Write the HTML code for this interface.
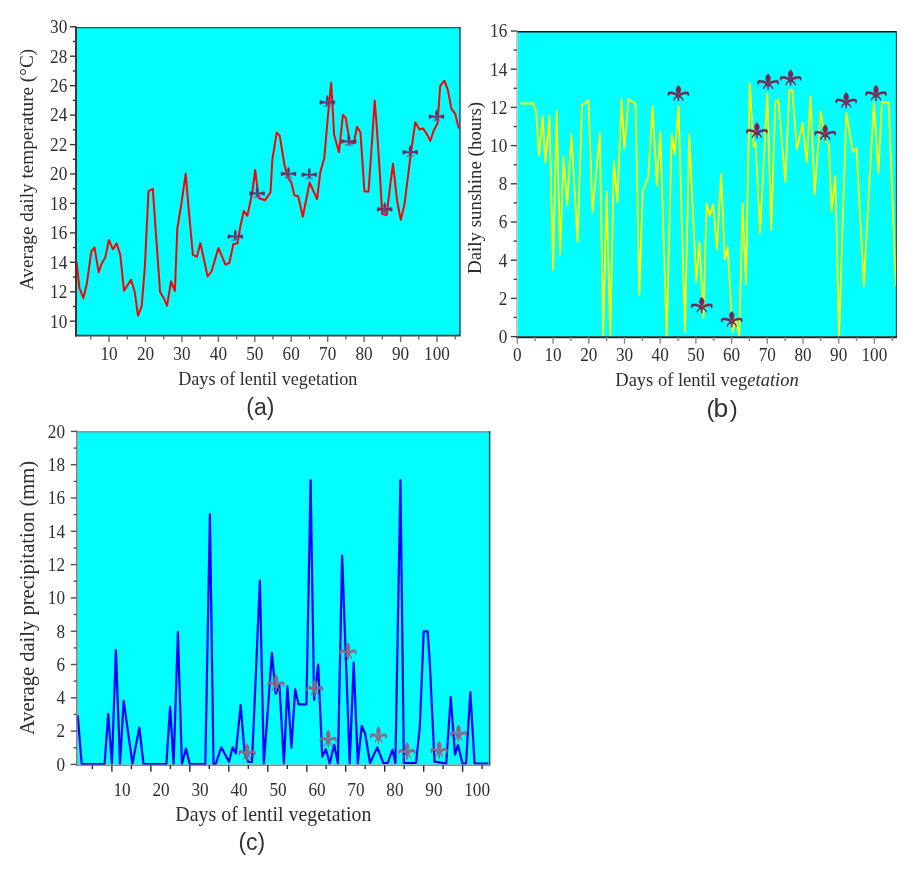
<!DOCTYPE html>
<html><head><meta charset="utf-8"><style>
html,body{margin:0;padding:0;background:#fff;}
svg{display:block;filter:blur(0.3px);}
text{font-family:'Liberation Serif',serif;fill:#2e2e2e;}
.lab{font-family:'Liberation Sans',sans-serif;fill:#333;}
</style></head><body>
<svg width="918" height="869" viewBox="0 0 918 869">
<defs>
<g id="fdl">
<path d="M0,0 C1.8,1.5 2.7,3.4 2.5,5 C2.3,6.8 1.2,8.3 0,9.6 C-1.2,8.3 -2.3,6.8 -2.5,5 C-2.7,3.4 -1.8,1.5 0,0 Z"/>
<path d="M-0.4,9.4 C-2,7.4 -5.5,6.4 -8.8,6.6 C-10.6,6.8 -11.2,8.6 -10.4,10.6 L-9.4,10.9 C-9.6,9.8 -9.2,8.9 -8,8.8 C-5.6,8.7 -3,9.6 -0.6,11.2 Z"/>
<path d="M0.4,9.4 C2,7.4 5.5,6.4 8.8,6.6 C10.6,6.8 11.2,8.6 10.4,10.6 L9.4,10.9 C9.6,9.8 9.2,8.9 8,8.8 C5.6,8.7 3,9.6 0.6,11.2 Z"/>
<path d="M-2.6,10.2 H2.6 V11.4 H-2.6 Z"/>
<path d="M-0.85,10.5 L0.85,10.5 L0.55,15.9 L-0.55,15.9 Z"/>
<path d="M-1.2,11.6 C-2.8,12 -4.2,12.8 -4.6,14.8" fill="none" stroke-width="1.3" stroke-linecap="round"/>
<path d="M1.2,11.6 C2.8,12 4.2,12.8 4.6,14.8" fill="none" stroke-width="1.3" stroke-linecap="round"/>
</g>
<g id="fdlA">
<path d="M0,0 C0.9,1.1 1.3,2.6 1.3,3.9 C1.3,5 0.7,5.9 0,6.7 C-0.7,5.9 -1.3,5 -1.3,3.9 C-1.3,2.6 -0.9,1.1 0,0 Z"/>
<path d="M-1,6.6 L-5,5.6 C-6.3,5.0 -7.4,4.9 -7.5,5.8 L-7.4,8.6 C-7.3,9.3 -6.6,9.4 -6.1,8.8 C-5.2,8 -3,7.7 -1,7.9 Z"/>
<path d="M1,6.6 L5,5.6 C6.3,5.0 7.4,4.9 7.5,5.8 L7.4,8.6 C7.3,9.3 6.6,9.4 6.1,8.8 C5.2,8 3,7.7 1,7.9 Z"/>
<path d="M-1.3,6 H1.3 V10.2 H-1.3 Z" fill="#5c4a84"/>
<path d="M-3.6,10 H3.6 V11.6 H-3.6 Z" fill="#6272a2" opacity="0.6"/>
</g>
</defs>
</defs>

<rect x="76" y="27" width="384.6" height="308.5" fill="#00ffff"/>
<polyline points="76.6,262.2 79.4,288.0 83.4,298.1 86.7,284.3 91.4,251.1 94.5,247.4 98.7,272.3 101.5,264.0 105.2,257.6 108.9,240.0 112.9,249.3 116.6,243.4 120.3,254.8 124.0,290.7 131.0,279.7 134.7,291.7 138.0,315.6 141.7,306.4 144.8,267.7 148.5,191.2 152.8,188.9 156.6,243.0 160.1,292.0 163.6,297.9 167.1,305.7 171.0,281.3 174.9,291.0 177.3,228.5 181.2,205.0 185.7,173.7 189.0,212.8 192.9,254.9 196.9,256.8 200.4,243.1 207.6,276.4 211.5,271.5 218.4,248.0 225.5,264.7 229.4,262.8 233.3,244.2 237.6,243.2 240.5,225.6 243.9,211.0 247.4,215.8 252.3,192.4 255.2,169.9 258.1,194.3 259.1,198.2 265.0,200.2 270.5,192.4 272.4,159.1 276.7,132.7 279.7,135.6 284.5,165.0 287.5,176.7 291.4,182.6 294.3,195.3 298.2,196.3 302.8,216.7 309.6,182.5 317.1,199.1 320.4,171.7 324.3,158.0 328.2,113.0 331.2,82.7 334.1,134.5 339.0,152.2 342.9,115.0 345.8,117.9 349.7,142.4 353.7,143.4 357.0,126.7 360.5,132.6 364.4,191.3 368.5,191.7 371.2,153.3 374.7,100.4 376.4,122.2 379.5,167.8 382.2,214.0 386.7,215.0 389.8,188.6 393.0,163.7 397.1,201.0 400.8,219.7 404.4,205.1 410.6,155.4 415.3,122.2 419.5,129.5 423.0,128.4 427.2,134.6 430.3,140.9 433.4,131.5 437.5,123.2 440.2,85.9 444.4,80.7 447.9,90.1 451.4,108.7 455.2,113.9 458.9,128.4" fill="none" stroke="#ff0000" stroke-width="2.0" stroke-linejoin="round"/>
<use href="#fdlA" transform="translate(235.3,229.5) scale(1.013,1.000)" fill="#6c2c64" stroke="#6c2c64" stroke-width="0.3"/>
<use href="#fdlA" transform="translate(257.2,186.4) scale(1.013,1.000)" fill="#6c2c64" stroke="#6c2c64" stroke-width="0.3"/>
<use href="#fdlA" transform="translate(288.5,166.8) scale(1.013,1.000)" fill="#6c2c64" stroke="#6c2c64" stroke-width="0.3"/>
<use href="#fdlA" transform="translate(309.3,167.7) scale(1.013,1.000)" fill="#6c2c64" stroke="#6c2c64" stroke-width="0.3"/>
<use href="#fdlA" transform="translate(327.3,95.3) scale(1.013,1.000)" fill="#6c2c64" stroke="#6c2c64" stroke-width="0.3"/>
<use href="#fdlA" transform="translate(348.8,134.4) scale(1.013,1.000)" fill="#6c2c64" stroke="#6c2c64" stroke-width="0.3"/>
<use href="#fdlA" transform="translate(384.7,202.2) scale(1.013,1.000)" fill="#6c2c64" stroke="#6c2c64" stroke-width="0.3"/>
<use href="#fdlA" transform="translate(410.2,145.2) scale(1.013,1.000)" fill="#6c2c64" stroke="#6c2c64" stroke-width="0.3"/>
<use href="#fdlA" transform="translate(436.5,109.6) scale(1.013,1.000)" fill="#6c2c64" stroke="#6c2c64" stroke-width="0.3"/>
<line x1="75.5" y1="27.65" x2="460.6" y2="27.65" stroke="#2a5555" stroke-width="1.3"/>
<line x1="459.90000000000003" y1="27" x2="459.90000000000003" y2="335.6" stroke="#3a4a4a" stroke-width="1.4"/>
<line x1="76" y1="26.5" x2="76" y2="336.5" stroke="#3a3434" stroke-width="2.0"/>
<line x1="75.0" y1="335.6" x2="460.6" y2="335.6" stroke="#3a3a3a" stroke-width="1.8"/>
<line x1="70.0" y1="321.2" x2="76" y2="321.2" stroke="#3a3434" stroke-width="1.4"/>
<text transform="translate(67.3,327.5) scale(0.94,1)" font-size="18.3" text-anchor="end">10</text>
<line x1="72.8" y1="306.5" x2="76" y2="306.5" stroke="#3a3434" stroke-width="1.4"/>
<line x1="70.0" y1="291.8" x2="76" y2="291.8" stroke="#3a3434" stroke-width="1.4"/>
<text transform="translate(67.3,298.1) scale(0.94,1)" font-size="18.3" text-anchor="end">12</text>
<line x1="72.8" y1="277.0" x2="76" y2="277.0" stroke="#3a3434" stroke-width="1.4"/>
<line x1="70.0" y1="262.3" x2="76" y2="262.3" stroke="#3a3434" stroke-width="1.4"/>
<text transform="translate(67.3,268.6) scale(0.94,1)" font-size="18.3" text-anchor="end">14</text>
<line x1="72.8" y1="247.6" x2="76" y2="247.6" stroke="#3a3434" stroke-width="1.4"/>
<line x1="70.0" y1="232.9" x2="76" y2="232.9" stroke="#3a3434" stroke-width="1.4"/>
<text transform="translate(67.3,239.2) scale(0.94,1)" font-size="18.3" text-anchor="end">16</text>
<line x1="72.8" y1="218.2" x2="76" y2="218.2" stroke="#3a3434" stroke-width="1.4"/>
<line x1="70.0" y1="203.4" x2="76" y2="203.4" stroke="#3a3434" stroke-width="1.4"/>
<text transform="translate(67.3,209.8) scale(0.94,1)" font-size="18.3" text-anchor="end">18</text>
<line x1="72.8" y1="188.7" x2="76" y2="188.7" stroke="#3a3434" stroke-width="1.4"/>
<line x1="70.0" y1="174.0" x2="76" y2="174.0" stroke="#3a3434" stroke-width="1.4"/>
<text transform="translate(67.3,180.3) scale(0.94,1)" font-size="18.3" text-anchor="end">20</text>
<line x1="72.8" y1="159.3" x2="76" y2="159.3" stroke="#3a3434" stroke-width="1.4"/>
<line x1="70.0" y1="144.6" x2="76" y2="144.6" stroke="#3a3434" stroke-width="1.4"/>
<text transform="translate(67.3,150.9) scale(0.94,1)" font-size="18.3" text-anchor="end">22</text>
<line x1="72.8" y1="129.8" x2="76" y2="129.8" stroke="#3a3434" stroke-width="1.4"/>
<line x1="70.0" y1="115.1" x2="76" y2="115.1" stroke="#3a3434" stroke-width="1.4"/>
<text transform="translate(67.3,121.4) scale(0.94,1)" font-size="18.3" text-anchor="end">24</text>
<line x1="72.8" y1="100.4" x2="76" y2="100.4" stroke="#3a3434" stroke-width="1.4"/>
<line x1="70.0" y1="85.7" x2="76" y2="85.7" stroke="#3a3434" stroke-width="1.4"/>
<text transform="translate(67.3,92.0) scale(0.94,1)" font-size="18.3" text-anchor="end">26</text>
<line x1="72.8" y1="71.0" x2="76" y2="71.0" stroke="#3a3434" stroke-width="1.4"/>
<line x1="70.0" y1="56.2" x2="76" y2="56.2" stroke="#3a3434" stroke-width="1.4"/>
<text transform="translate(67.3,62.6) scale(0.94,1)" font-size="18.3" text-anchor="end">28</text>
<line x1="72.8" y1="41.5" x2="76" y2="41.5" stroke="#3a3434" stroke-width="1.4"/>
<line x1="70.0" y1="26.8" x2="76" y2="26.8" stroke="#3a3434" stroke-width="1.4"/>
<text transform="translate(67.3,33.1) scale(0.94,1)" font-size="18.3" text-anchor="end">30</text>
<line x1="90.8" y1="335.6" x2="90.8" y2="339.4" stroke="#6a6a6a" stroke-width="1.4"/>
<line x1="109.0" y1="335.6" x2="109.0" y2="342.1" stroke="#6a6a6a" stroke-width="1.4"/>
<text transform="translate(109.0,360.0) scale(0.94,1)" font-size="18.3" text-anchor="middle">10</text>
<line x1="127.3" y1="335.6" x2="127.3" y2="339.4" stroke="#6a6a6a" stroke-width="1.4"/>
<line x1="145.5" y1="335.6" x2="145.5" y2="342.1" stroke="#6a6a6a" stroke-width="1.4"/>
<text transform="translate(145.5,360.0) scale(0.94,1)" font-size="18.3" text-anchor="middle">20</text>
<line x1="163.7" y1="335.6" x2="163.7" y2="339.4" stroke="#6a6a6a" stroke-width="1.4"/>
<line x1="181.9" y1="335.6" x2="181.9" y2="342.1" stroke="#6a6a6a" stroke-width="1.4"/>
<text transform="translate(181.9,360.0) scale(0.94,1)" font-size="18.3" text-anchor="middle">30</text>
<line x1="200.1" y1="335.6" x2="200.1" y2="339.4" stroke="#6a6a6a" stroke-width="1.4"/>
<line x1="218.4" y1="335.6" x2="218.4" y2="342.1" stroke="#6a6a6a" stroke-width="1.4"/>
<text transform="translate(218.4,360.0) scale(0.94,1)" font-size="18.3" text-anchor="middle">40</text>
<line x1="236.6" y1="335.6" x2="236.6" y2="339.4" stroke="#6a6a6a" stroke-width="1.4"/>
<line x1="254.8" y1="335.6" x2="254.8" y2="342.1" stroke="#6a6a6a" stroke-width="1.4"/>
<text transform="translate(254.8,360.0) scale(0.94,1)" font-size="18.3" text-anchor="middle">50</text>
<line x1="273.0" y1="335.6" x2="273.0" y2="339.4" stroke="#6a6a6a" stroke-width="1.4"/>
<line x1="291.2" y1="335.6" x2="291.2" y2="342.1" stroke="#6a6a6a" stroke-width="1.4"/>
<text transform="translate(291.2,360.0) scale(0.94,1)" font-size="18.3" text-anchor="middle">60</text>
<line x1="309.5" y1="335.6" x2="309.5" y2="339.4" stroke="#6a6a6a" stroke-width="1.4"/>
<line x1="327.7" y1="335.6" x2="327.7" y2="342.1" stroke="#6a6a6a" stroke-width="1.4"/>
<text transform="translate(327.7,360.0) scale(0.94,1)" font-size="18.3" text-anchor="middle">70</text>
<line x1="345.9" y1="335.6" x2="345.9" y2="339.4" stroke="#6a6a6a" stroke-width="1.4"/>
<line x1="364.1" y1="335.6" x2="364.1" y2="342.1" stroke="#6a6a6a" stroke-width="1.4"/>
<text transform="translate(364.1,360.0) scale(0.94,1)" font-size="18.3" text-anchor="middle">80</text>
<line x1="382.3" y1="335.6" x2="382.3" y2="339.4" stroke="#6a6a6a" stroke-width="1.4"/>
<line x1="400.6" y1="335.6" x2="400.6" y2="342.1" stroke="#6a6a6a" stroke-width="1.4"/>
<text transform="translate(400.6,360.0) scale(0.94,1)" font-size="18.3" text-anchor="middle">90</text>
<line x1="418.8" y1="335.6" x2="418.8" y2="339.4" stroke="#6a6a6a" stroke-width="1.4"/>
<line x1="437.0" y1="335.6" x2="437.0" y2="342.1" stroke="#6a6a6a" stroke-width="1.4"/>
<text transform="translate(437.0,360.0) scale(0.94,1)" font-size="18.3" text-anchor="middle">100</text>
<line x1="455.2" y1="335.6" x2="455.2" y2="339.4" stroke="#6a6a6a" stroke-width="1.4"/>
<rect x="517.4" y="31" width="379.6" height="305.6" fill="#00ffff"/>
<polyline points="520.6,103.5 533.3,103.5 536.1,111.9 539.0,155.6 542.6,116.1 545.4,162.7 549.4,116.1 553.1,269.8 556.7,110.5 560.1,254.3 563.5,157.0 567.2,205.0 571.4,134.5 577.6,241.6 582.0,104.9 588.5,100.6 592.5,212.0 599.8,133.1 603.2,336.0 606.6,190.9 610.2,336.0 613.9,161.3 617.3,202.1 621.5,99.2 624.3,148.6 628.6,99.2 635.6,103.5 639.3,295.2 642.7,190.9 648.3,176.8 652.6,106.3 656.8,185.2 660.2,131.7 666.7,337.0 671.7,134.5 674.5,154.2 678.5,106.3 685.0,331.8 689.2,134.5 696.2,282.0 699.3,241.8 703.5,317.4 706.6,203.5 709.7,215.9 713.2,204.5 716.9,249.1 721.1,174.0 724.8,259.4 727.7,247.0 732.5,331.9 735.6,318.0 739.3,336.0 742.6,203.3 745.9,284.3 749.7,82.7 753.6,146.3 755.5,142.4 760.0,233.0 767.3,93.5 771.2,229.7 775.3,102.5 778.3,99.5 785.3,182.0 789.3,89.7 792.3,89.7 796.8,149.3 802.6,123.0 806.7,162.3 810.4,96.0 814.6,194.0 820.6,111.5 825.0,140.0 828.8,144.5 831.6,211.7 835.3,175.8 839.0,336.0 846.3,113.0 852.8,152.0 856.5,148.0 863.8,286.0 873.8,102.3 878.4,172.8 881.9,102.2 888.6,102.6 896.0,286.5" fill="none" stroke="#ffff00" stroke-width="1.8" stroke-linejoin="round"/>
<use href="#fdl" transform="translate(678.4,85.2) scale(1.000,1.000)" fill="#7a2456" stroke="#7a2456" stroke-width="0.3"/>
<use href="#fdl" transform="translate(701.8,297.1) scale(1.000,1.000)" fill="#7a2456" stroke="#7a2456" stroke-width="0.3"/>
<use href="#fdl" transform="translate(731.8,311.3) scale(1.000,1.000)" fill="#7a2456" stroke="#7a2456" stroke-width="0.3"/>
<use href="#fdl" transform="translate(756.9,122.6) scale(1.000,1.000)" fill="#7a2456" stroke="#7a2456" stroke-width="0.3"/>
<use href="#fdl" transform="translate(768.1,73.7) scale(1.000,1.000)" fill="#7a2456" stroke="#7a2456" stroke-width="0.3"/>
<use href="#fdl" transform="translate(790.6,69.7) scale(1.000,1.000)" fill="#7a2456" stroke="#7a2456" stroke-width="0.3"/>
<use href="#fdl" transform="translate(825.2,124.5) scale(1.000,1.000)" fill="#7a2456" stroke="#7a2456" stroke-width="0.3"/>
<use href="#fdl" transform="translate(846.2,92.3) scale(1.000,1.000)" fill="#7a2456" stroke="#7a2456" stroke-width="0.3"/>
<use href="#fdl" transform="translate(876.0,85.0) scale(1.000,1.000)" fill="#7a2456" stroke="#7a2456" stroke-width="0.3"/>
<line x1="516.9" y1="31.8" x2="897" y2="31.8" stroke="#151515" stroke-width="1.6"/>
<line x1="896.4" y1="31" x2="896.4" y2="337.3" stroke="#505050" stroke-width="1.2"/>
<line x1="516.8" y1="30.5" x2="516.8" y2="338.3" stroke="#c4b4b4" stroke-width="1.2"/>
<line x1="516.1999999999999" y1="337.3" x2="897" y2="337.3" stroke="#1f2a2a" stroke-width="2.0"/>
<line x1="510.8" y1="336.6" x2="516.8" y2="336.6" stroke="#404040" stroke-width="1.4"/>
<text transform="translate(507.3,342.9) scale(0.94,1)" font-size="18.3" text-anchor="end">0</text>
<line x1="513.6" y1="317.5" x2="516.8" y2="317.5" stroke="#404040" stroke-width="1.4"/>
<line x1="510.8" y1="298.4" x2="516.8" y2="298.4" stroke="#404040" stroke-width="1.4"/>
<text transform="translate(507.3,304.7) scale(0.94,1)" font-size="18.3" text-anchor="end">2</text>
<line x1="513.6" y1="279.3" x2="516.8" y2="279.3" stroke="#404040" stroke-width="1.4"/>
<line x1="510.8" y1="260.2" x2="516.8" y2="260.2" stroke="#404040" stroke-width="1.4"/>
<text transform="translate(507.3,266.5) scale(0.94,1)" font-size="18.3" text-anchor="end">4</text>
<line x1="513.6" y1="241.1" x2="516.8" y2="241.1" stroke="#404040" stroke-width="1.4"/>
<line x1="510.8" y1="222.0" x2="516.8" y2="222.0" stroke="#404040" stroke-width="1.4"/>
<text transform="translate(507.3,228.3) scale(0.94,1)" font-size="18.3" text-anchor="end">6</text>
<line x1="513.6" y1="202.9" x2="516.8" y2="202.9" stroke="#404040" stroke-width="1.4"/>
<line x1="510.8" y1="183.8" x2="516.8" y2="183.8" stroke="#404040" stroke-width="1.4"/>
<text transform="translate(507.3,190.1) scale(0.94,1)" font-size="18.3" text-anchor="end">8</text>
<line x1="513.6" y1="164.7" x2="516.8" y2="164.7" stroke="#404040" stroke-width="1.4"/>
<line x1="510.8" y1="145.6" x2="516.8" y2="145.6" stroke="#404040" stroke-width="1.4"/>
<text transform="translate(507.3,151.9) scale(0.94,1)" font-size="18.3" text-anchor="end">10</text>
<line x1="513.6" y1="126.5" x2="516.8" y2="126.5" stroke="#404040" stroke-width="1.4"/>
<line x1="510.8" y1="107.4" x2="516.8" y2="107.4" stroke="#404040" stroke-width="1.4"/>
<text transform="translate(507.3,113.7) scale(0.94,1)" font-size="18.3" text-anchor="end">12</text>
<line x1="513.6" y1="88.3" x2="516.8" y2="88.3" stroke="#404040" stroke-width="1.4"/>
<line x1="510.8" y1="69.2" x2="516.8" y2="69.2" stroke="#404040" stroke-width="1.4"/>
<text transform="translate(507.3,75.5) scale(0.94,1)" font-size="18.3" text-anchor="end">14</text>
<line x1="513.6" y1="50.1" x2="516.8" y2="50.1" stroke="#404040" stroke-width="1.4"/>
<line x1="510.8" y1="31.0" x2="516.8" y2="31.0" stroke="#404040" stroke-width="1.4"/>
<text transform="translate(507.3,37.3) scale(0.94,1)" font-size="18.3" text-anchor="end">16</text>
<line x1="517.4" y1="337.3" x2="517.4" y2="343.8" stroke="#8a8a8a" stroke-width="1.4"/>
<text transform="translate(517.4,361.0) scale(0.94,1)" font-size="18.3" text-anchor="middle">0</text>
<line x1="535.2" y1="337.3" x2="535.2" y2="341.1" stroke="#8a8a8a" stroke-width="1.4"/>
<line x1="553.1" y1="337.3" x2="553.1" y2="343.8" stroke="#8a8a8a" stroke-width="1.4"/>
<text transform="translate(553.1,361.0) scale(0.94,1)" font-size="18.3" text-anchor="middle">10</text>
<line x1="570.9" y1="337.3" x2="570.9" y2="341.1" stroke="#8a8a8a" stroke-width="1.4"/>
<line x1="588.8" y1="337.3" x2="588.8" y2="343.8" stroke="#8a8a8a" stroke-width="1.4"/>
<text transform="translate(588.8,361.0) scale(0.94,1)" font-size="18.3" text-anchor="middle">20</text>
<line x1="606.6" y1="337.3" x2="606.6" y2="341.1" stroke="#8a8a8a" stroke-width="1.4"/>
<line x1="624.5" y1="337.3" x2="624.5" y2="343.8" stroke="#8a8a8a" stroke-width="1.4"/>
<text transform="translate(624.5,361.0) scale(0.94,1)" font-size="18.3" text-anchor="middle">30</text>
<line x1="642.3" y1="337.3" x2="642.3" y2="341.1" stroke="#8a8a8a" stroke-width="1.4"/>
<line x1="660.2" y1="337.3" x2="660.2" y2="343.8" stroke="#8a8a8a" stroke-width="1.4"/>
<text transform="translate(660.2,361.0) scale(0.94,1)" font-size="18.3" text-anchor="middle">40</text>
<line x1="678.0" y1="337.3" x2="678.0" y2="341.1" stroke="#8a8a8a" stroke-width="1.4"/>
<line x1="695.9" y1="337.3" x2="695.9" y2="343.8" stroke="#8a8a8a" stroke-width="1.4"/>
<text transform="translate(695.9,361.0) scale(0.94,1)" font-size="18.3" text-anchor="middle">50</text>
<line x1="713.8" y1="337.3" x2="713.8" y2="341.1" stroke="#8a8a8a" stroke-width="1.4"/>
<line x1="731.6" y1="337.3" x2="731.6" y2="343.8" stroke="#8a8a8a" stroke-width="1.4"/>
<text transform="translate(731.6,361.0) scale(0.94,1)" font-size="18.3" text-anchor="middle">60</text>
<line x1="749.4" y1="337.3" x2="749.4" y2="341.1" stroke="#8a8a8a" stroke-width="1.4"/>
<line x1="767.3" y1="337.3" x2="767.3" y2="343.8" stroke="#8a8a8a" stroke-width="1.4"/>
<text transform="translate(767.3,361.0) scale(0.94,1)" font-size="18.3" text-anchor="middle">70</text>
<line x1="785.1" y1="337.3" x2="785.1" y2="341.1" stroke="#8a8a8a" stroke-width="1.4"/>
<line x1="803.0" y1="337.3" x2="803.0" y2="343.8" stroke="#8a8a8a" stroke-width="1.4"/>
<text transform="translate(803.0,361.0) scale(0.94,1)" font-size="18.3" text-anchor="middle">80</text>
<line x1="820.8" y1="337.3" x2="820.8" y2="341.1" stroke="#8a8a8a" stroke-width="1.4"/>
<line x1="838.7" y1="337.3" x2="838.7" y2="343.8" stroke="#8a8a8a" stroke-width="1.4"/>
<text transform="translate(838.7,361.0) scale(0.94,1)" font-size="18.3" text-anchor="middle">90</text>
<line x1="856.5" y1="337.3" x2="856.5" y2="341.1" stroke="#8a8a8a" stroke-width="1.4"/>
<line x1="874.4" y1="337.3" x2="874.4" y2="343.8" stroke="#8a8a8a" stroke-width="1.4"/>
<text transform="translate(874.4,361.0) scale(0.94,1)" font-size="18.3" text-anchor="middle">100</text>
<line x1="892.2" y1="337.3" x2="892.2" y2="341.1" stroke="#8a8a8a" stroke-width="1.4"/>
<rect x="77.6" y="431.3" width="412.70000000000005" height="333.3" fill="#00ffff"/>
<polyline points="77.7,715.3 81.7,764.0 104.6,764.0 108.2,713.8 111.9,763.7 115.9,650.1 120.0,763.7 123.7,700.9 132.4,763.7 139.3,727.5 143.5,764.0 166.4,764.0 170.1,706.6 173.6,764.0 177.9,632.0 181.9,764.0 186.0,748.5 189.7,764.0 205.3,764.0 209.9,514.0 213.5,764.0 215.7,764.0 221.3,747.3 229.0,761.8 232.6,747.3 235.8,753.3 240.6,705.0 244.7,753.3 248.3,762.0 252.0,762.0 259.9,580.5 263.8,763.4 267.7,712.0 271.9,652.8 275.7,693.9 279.4,685.0 283.9,763.4 287.4,686.4 291.4,747.7 295.2,689.4 298.6,704.3 302.5,704.3 306.4,704.3 310.6,480.1 314.1,699.8 318.2,664.7 322.2,756.7 325.9,749.2 329.7,763.4 334.2,744.7 337.9,763.4 342.1,555.7 349.7,763.4 353.7,662.5 357.8,763.4 361.7,725.8 365.2,734.0 370.0,763.0 377.3,747.3 383.3,763.0 387.7,763.0 392.5,749.7 395.4,763.0 400.4,480.1 403.9,763.0 416.0,763.0 419.8,727.3 423.7,631.3 427.6,631.3 429.6,658.8 434.5,761.6 446.2,763.5 450.7,697.0 455.0,754.7 458.0,744.9 462.5,763.5 466.0,763.5 470.3,692.0 474.6,763.5 488.3,763.5" fill="none" stroke="#0000ff" stroke-width="2.2" stroke-linejoin="round"/>
<use href="#fdl" transform="translate(247.1,743.6) scale(0.773,1.062)" fill="#8a6888" stroke="#8a6888" stroke-width="0.8"/>
<use href="#fdl" transform="translate(276.0,674.7) scale(0.773,1.062)" fill="#8a6888" stroke="#8a6888" stroke-width="0.8"/>
<use href="#fdl" transform="translate(314.7,679.4) scale(0.773,1.062)" fill="#8a6888" stroke="#8a6888" stroke-width="0.8"/>
<use href="#fdl" transform="translate(328.2,730.2) scale(0.773,1.062)" fill="#8a6888" stroke="#8a6888" stroke-width="0.8"/>
<use href="#fdl" transform="translate(348.0,642.7) scale(0.773,1.062)" fill="#8a6888" stroke="#8a6888" stroke-width="0.8"/>
<use href="#fdl" transform="translate(378.5,726.7) scale(0.773,1.062)" fill="#8a6888" stroke="#8a6888" stroke-width="0.8"/>
<use href="#fdl" transform="translate(407.0,742.4) scale(0.773,1.062)" fill="#8a6888" stroke="#8a6888" stroke-width="0.8"/>
<use href="#fdl" transform="translate(439.2,741.2) scale(0.773,1.062)" fill="#8a6888" stroke="#8a6888" stroke-width="0.8"/>
<use href="#fdl" transform="translate(458.6,724.7) scale(0.773,1.062)" fill="#8a6888" stroke="#8a6888" stroke-width="0.8"/>
<line x1="77.1" y1="431.90000000000003" x2="490.3" y2="431.90000000000003" stroke="#5f9e9e" stroke-width="1.2"/>
<line x1="489.6" y1="431.3" x2="489.6" y2="765.3" stroke="#1d4545" stroke-width="1.4"/>
<line x1="76.8" y1="430.8" x2="76.8" y2="766.0999999999999" stroke="#7a8282" stroke-width="1.6"/>
<line x1="76.0" y1="765.3" x2="490.3" y2="765.3" stroke="#8a8a8a" stroke-width="1.6"/>
<line x1="70.8" y1="764.4" x2="76.8" y2="764.4" stroke="#505050" stroke-width="1.4"/>
<text transform="translate(65.0,770.7) scale(0.94,1)" font-size="18.3" text-anchor="end">0</text>
<line x1="73.6" y1="747.8" x2="76.8" y2="747.8" stroke="#505050" stroke-width="1.4"/>
<line x1="70.8" y1="731.1" x2="76.8" y2="731.1" stroke="#505050" stroke-width="1.4"/>
<text transform="translate(65.0,737.4) scale(0.94,1)" font-size="18.3" text-anchor="end">2</text>
<line x1="73.6" y1="714.4" x2="76.8" y2="714.4" stroke="#505050" stroke-width="1.4"/>
<line x1="70.8" y1="697.8" x2="76.8" y2="697.8" stroke="#505050" stroke-width="1.4"/>
<text transform="translate(65.0,704.1) scale(0.94,1)" font-size="18.3" text-anchor="end">4</text>
<line x1="73.6" y1="681.1" x2="76.8" y2="681.1" stroke="#505050" stroke-width="1.4"/>
<line x1="70.8" y1="664.5" x2="76.8" y2="664.5" stroke="#505050" stroke-width="1.4"/>
<text transform="translate(65.0,670.8) scale(0.94,1)" font-size="18.3" text-anchor="end">6</text>
<line x1="73.6" y1="647.9" x2="76.8" y2="647.9" stroke="#505050" stroke-width="1.4"/>
<line x1="70.8" y1="631.2" x2="76.8" y2="631.2" stroke="#505050" stroke-width="1.4"/>
<text transform="translate(65.0,637.5) scale(0.94,1)" font-size="18.3" text-anchor="end">8</text>
<line x1="73.6" y1="614.5" x2="76.8" y2="614.5" stroke="#505050" stroke-width="1.4"/>
<line x1="70.8" y1="597.9" x2="76.8" y2="597.9" stroke="#505050" stroke-width="1.4"/>
<text transform="translate(65.0,604.2) scale(0.94,1)" font-size="18.3" text-anchor="end">10</text>
<line x1="73.6" y1="581.2" x2="76.8" y2="581.2" stroke="#505050" stroke-width="1.4"/>
<line x1="70.8" y1="564.6" x2="76.8" y2="564.6" stroke="#505050" stroke-width="1.4"/>
<text transform="translate(65.0,570.9) scale(0.94,1)" font-size="18.3" text-anchor="end">12</text>
<line x1="73.6" y1="548.0" x2="76.8" y2="548.0" stroke="#505050" stroke-width="1.4"/>
<line x1="70.8" y1="531.3" x2="76.8" y2="531.3" stroke="#505050" stroke-width="1.4"/>
<text transform="translate(65.0,537.6) scale(0.94,1)" font-size="18.3" text-anchor="end">14</text>
<line x1="73.6" y1="514.6" x2="76.8" y2="514.6" stroke="#505050" stroke-width="1.4"/>
<line x1="70.8" y1="498.0" x2="76.8" y2="498.0" stroke="#505050" stroke-width="1.4"/>
<text transform="translate(65.0,504.3) scale(0.94,1)" font-size="18.3" text-anchor="end">16</text>
<line x1="73.6" y1="481.4" x2="76.8" y2="481.4" stroke="#505050" stroke-width="1.4"/>
<line x1="70.8" y1="464.7" x2="76.8" y2="464.7" stroke="#505050" stroke-width="1.4"/>
<text transform="translate(65.0,471.0) scale(0.94,1)" font-size="18.3" text-anchor="end">18</text>
<line x1="73.6" y1="448.1" x2="76.8" y2="448.1" stroke="#505050" stroke-width="1.4"/>
<line x1="70.8" y1="431.4" x2="76.8" y2="431.4" stroke="#505050" stroke-width="1.4"/>
<text transform="translate(65.0,437.7) scale(0.94,1)" font-size="18.3" text-anchor="end">20</text>
<line x1="92.4" y1="765.3" x2="92.4" y2="769.1" stroke="#2a2a2a" stroke-width="1.4"/>
<line x1="111.9" y1="765.3" x2="111.9" y2="771.8" stroke="#2a2a2a" stroke-width="1.4"/>
<text transform="translate(113.5,796.3) scale(0.94,1)" font-size="18.3" text-anchor="start">10</text>
<line x1="131.4" y1="765.3" x2="131.4" y2="769.1" stroke="#2a2a2a" stroke-width="1.4"/>
<line x1="150.9" y1="765.3" x2="150.9" y2="771.8" stroke="#2a2a2a" stroke-width="1.4"/>
<text transform="translate(152.5,796.3) scale(0.94,1)" font-size="18.3" text-anchor="start">20</text>
<line x1="170.4" y1="765.3" x2="170.4" y2="769.1" stroke="#2a2a2a" stroke-width="1.4"/>
<line x1="189.8" y1="765.3" x2="189.8" y2="771.8" stroke="#2a2a2a" stroke-width="1.4"/>
<text transform="translate(191.4,796.3) scale(0.94,1)" font-size="18.3" text-anchor="start">30</text>
<line x1="209.3" y1="765.3" x2="209.3" y2="769.1" stroke="#2a2a2a" stroke-width="1.4"/>
<line x1="228.8" y1="765.3" x2="228.8" y2="771.8" stroke="#2a2a2a" stroke-width="1.4"/>
<text transform="translate(230.4,796.3) scale(0.94,1)" font-size="18.3" text-anchor="start">40</text>
<line x1="248.3" y1="765.3" x2="248.3" y2="769.1" stroke="#2a2a2a" stroke-width="1.4"/>
<line x1="267.8" y1="765.3" x2="267.8" y2="771.8" stroke="#2a2a2a" stroke-width="1.4"/>
<text transform="translate(269.4,796.3) scale(0.94,1)" font-size="18.3" text-anchor="start">50</text>
<line x1="287.3" y1="765.3" x2="287.3" y2="769.1" stroke="#2a2a2a" stroke-width="1.4"/>
<line x1="306.8" y1="765.3" x2="306.8" y2="771.8" stroke="#2a2a2a" stroke-width="1.4"/>
<text transform="translate(308.4,796.3) scale(0.94,1)" font-size="18.3" text-anchor="start">60</text>
<line x1="326.2" y1="765.3" x2="326.2" y2="769.1" stroke="#2a2a2a" stroke-width="1.4"/>
<line x1="345.7" y1="765.3" x2="345.7" y2="771.8" stroke="#2a2a2a" stroke-width="1.4"/>
<text transform="translate(347.3,796.3) scale(0.94,1)" font-size="18.3" text-anchor="start">70</text>
<line x1="365.2" y1="765.3" x2="365.2" y2="769.1" stroke="#2a2a2a" stroke-width="1.4"/>
<line x1="384.7" y1="765.3" x2="384.7" y2="771.8" stroke="#2a2a2a" stroke-width="1.4"/>
<text transform="translate(386.3,796.3) scale(0.94,1)" font-size="18.3" text-anchor="start">80</text>
<line x1="404.2" y1="765.3" x2="404.2" y2="769.1" stroke="#2a2a2a" stroke-width="1.4"/>
<line x1="423.7" y1="765.3" x2="423.7" y2="771.8" stroke="#2a2a2a" stroke-width="1.4"/>
<text transform="translate(425.3,796.3) scale(0.94,1)" font-size="18.3" text-anchor="start">90</text>
<line x1="443.1" y1="765.3" x2="443.1" y2="769.1" stroke="#2a2a2a" stroke-width="1.4"/>
<line x1="462.6" y1="765.3" x2="462.6" y2="771.8" stroke="#2a2a2a" stroke-width="1.4"/>
<text transform="translate(464.2,796.3) scale(0.94,1)" font-size="18.3" text-anchor="start">100</text>
<line x1="482.1" y1="765.3" x2="482.1" y2="769.1" stroke="#2a2a2a" stroke-width="1.4"/>
<text x="0" y="0" font-size="19.2" text-anchor="middle" transform="translate(32.5,169.5) rotate(-90)">Average daily temperature (°C)</text>
<text x="267.8" y="384.7" font-size="18.2" text-anchor="middle">Days of lentil vegetation</text>
<text class="lab" x="246.3" y="415.2" font-size="23">(a)</text>
<text x="0" y="0" font-size="18.9" text-anchor="middle" transform="translate(481,187.9) rotate(-90)">Daily sunshine (hours)</text>
<text x="615.3" y="385.7" font-size="18.5">Days of lentil veg<tspan font-style="italic">etation</tspan></text>
<text class="lab" y="417" font-size="24"><tspan x="706.6">(</tspan><tspan x="713.4" font-size="26.5">b</tspan><tspan x="729.7">)</tspan></text>
<text x="0" y="0" font-size="20.55" text-anchor="middle" transform="translate(34,598) rotate(-90)">Average daily precipitation (mm)</text>
<text x="273.4" y="820.6" font-size="19.9" text-anchor="middle">Days of lentil vegetation</text>
<text class="lab" x="238.4" y="850" font-size="23">(c)</text>
</svg>
</body></html>
